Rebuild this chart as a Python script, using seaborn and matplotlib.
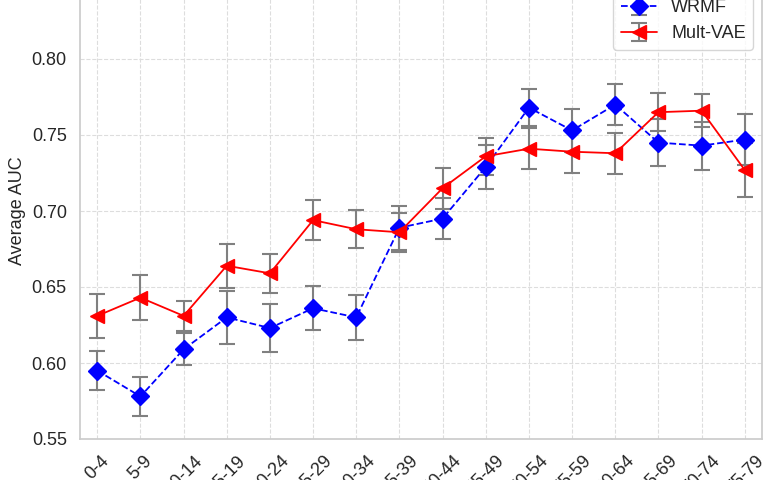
"""
Average AUC per age group: WRMF vs Mult-VAE, with error bars.
"""

import pandas as pd
import matplotlib
matplotlib.use("Agg")
import matplotlib.pyplot as plt
import seaborn as sns

# -------------------------
# Data
# -------------------------
age_groups = ["0-4", "5-9", "10-14", "15-19", "20-24", "25-29", "30-34", "35-39",
              "40-44", "45-49", "50-54", "55-59", "60-64", "65-69", "70-74", "75-79"]

wrmf_auc = [0.595, 0.578, 0.609, 0.630, 0.623, 0.636, 0.630, 0.689,
            0.695, 0.729, 0.768, 0.753, 0.770, 0.745, 0.743, 0.747]
wrmf_err = [0.013, 0.013, 0.0105, 0.0175, 0.016, 0.0145, 0.015, 0.0145,
            0.0135, 0.0146, 0.012, 0.014, 0.0137, 0.0155, 0.0157, 0.017]

vae_auc = [0.631, 0.643, 0.631, 0.664, 0.659, 0.694, 0.688, 0.686,
           0.715, 0.736, 0.741, 0.739, 0.738, 0.765, 0.766, 0.727]
vae_err = [0.0145, 0.015, 0.010, 0.0146, 0.013, 0.013, 0.0124, 0.013,
           0.0135, 0.012, 0.0135, 0.014, 0.0135, 0.0125, 0.0107, 0.0175]

df = pd.DataFrame({
    "age": age_groups,
    "wrmf": wrmf_auc, "wrmf_err": wrmf_err,
    "vae": vae_auc, "vae_err": vae_err,
})

# -------------------------
# Style
# -------------------------
sns.set_theme(style="whitegrid")
plt.rcParams["font.family"] = ["Liberation Sans", "DejaVu Sans"]
plt.rcParams["grid.linestyle"] = "--"
plt.rcParams["grid.color"] = "#dddddd"
plt.rcParams["grid.linewidth"] = 0.8

fig = plt.figure(figsize=(7.76, 4.8), dpi=100)
ax = fig.add_axes([80 / 776, 41 / 480, 682 / 776, 456 / 480])

x = range(len(df))

ax.errorbar(x, df["wrmf"], yerr=df["wrmf_err"], fmt="D--", color="blue",
            markersize=9, linewidth=1.3, ecolor="gray", elinewidth=1.5,
            capsize=6, capthick=1.5, label="WRMF")
ax.errorbar(x, df["vae"], yerr=df["vae_err"], fmt="<-", color="red",
            markersize=10, linewidth=1.3, ecolor="gray", elinewidth=1.5,
            capsize=6, capthick=1.5, label="Mult-VAE")

ax.set_xticks(list(x))
ax.set_xticklabels(df["age"], rotation=45, fontsize=13)
ax.tick_params(axis="y", labelsize=13)
ax.set_xlim(-0.4, 15.4)
ax.set_ylim(0.55, 0.85)
ax.set_yticks([0.55, 0.60, 0.65, 0.70, 0.75, 0.80])
ax.set_ylabel("Average AUC", fontsize=13)

for spine in ax.spines.values():
    spine.set_color("#cccccc")

ax.legend(loc="upper right", fontsize=13, frameon=True)

fig.savefig("out.png", dpi=100)
plt.close(fig)
